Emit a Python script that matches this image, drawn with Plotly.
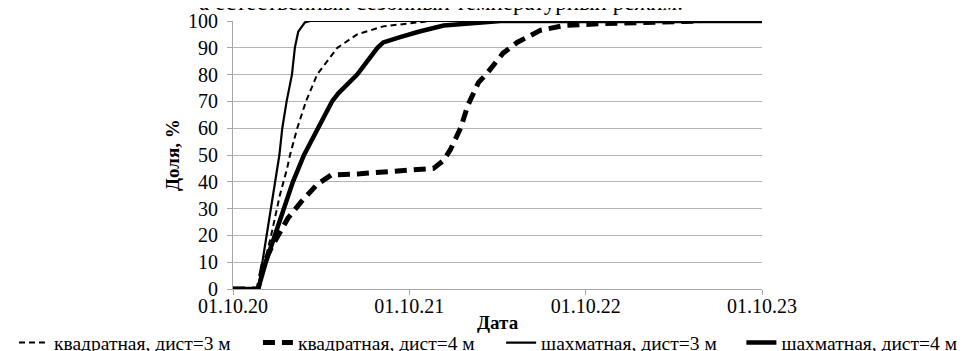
import plotly.graph_objects as go

# ---- data ----
kv3_dates = ["2020-10-01", "2020-11-22", "2020-12-19", "2021-01-06", "2021-01-21", "2021-01-27",
             "2021-02-11", "2021-03-01", "2021-03-24", "2021-05-05", "2021-06-15", "2021-08-08",
             "2021-11-14", "2023-10-01"]
kv3_vals = [0, 0, 20, 35, 45, 50, 60, 70, 80, 90, 95, 98, 100, 100]

kv4_dates = ["2020-10-01", "2020-11-22", "2020-12-02", "2020-12-21", "2021-01-23", "2021-02-19",
             "2021-03-24", "2021-04-22", "2021-06-21", "2021-09-19", "2021-11-20", "2021-12-11",
             "2021-12-25", "2022-01-15", "2022-01-30", "2022-02-21", "2022-03-13", "2022-04-13",
             "2022-05-12", "2022-06-29", "2022-08-16", "2022-11-01", "2023-05-27"]
kv4_vals = [0, 0, 9, 16, 26.5, 32.5, 39, 42.5, 43, 44, 45, 48, 52, 60, 68.5, 77, 81, 88,
            92, 96.5, 98.3, 99, 100]

sh3_dates = ["2020-10-01", "2020-11-22", "2021-01-05", "2021-01-11", "2021-01-20", "2021-01-31",
             "2021-02-06", "2021-02-13", "2021-02-27", "2021-03-10", "2023-10-01"]
sh3_vals = [0, 0, 50, 60, 70, 80, 90, 96, 99.5, 100, 100]

sh4_dates = ["2020-10-01", "2020-11-22", "2020-12-08", "2020-12-27", "2021-01-13", "2021-02-02",
             "2021-02-25", "2021-03-26", "2021-04-24", "2021-05-07", "2021-06-15", "2021-07-27",
             "2021-08-08", "2021-09-12", "2021-10-20", "2021-12-11", "2022-01-29", "2022-04-08",
             "2023-10-01"]
sh4_vals = [0, 0, 10, 20, 30, 40, 50, 60, 70, 73, 80, 90, 92, 94, 96, 98.3, 99, 100, 100]

series_names = ["квадратная, дист=3 м", "квадратная, дист=4 м",
                "шахматная, дист=3 м", "шахматная, дист=4 м"]

x_ticks = ["2020-10-01", "2021-10-01", "2022-10-01", "2023-10-01"]
x_tick_labels = ["01.10.20", "01.10.21", "01.10.22", "01.10.23"]
y_ticks = [0, 10, 20, 30, 40, 50, 60, 70, 80, 90, 100]

caption = "а естественный сезонный температурный режим."
y_title = "Доля, %"
x_title = "Дата"

FONT = "Liberation Serif"

fig = go.Figure()
fig.add_trace(go.Scatter(x=kv3_dates, y=kv3_vals, mode="lines", name=series_names[0],
                         legend="legend",
                         line=dict(color="black", width=2, dash="6px,4px")))
fig.add_trace(go.Scatter(x=kv4_dates, y=kv4_vals, mode="lines", name=series_names[1],
                         legend="legend2",
                         line=dict(color="black", width=5, dash="12px,7px")))
fig.add_trace(go.Scatter(x=sh3_dates, y=sh3_vals, mode="lines", name=series_names[2],
                         legend="legend3",
                         line=dict(color="black", width=2.2)))
fig.add_trace(go.Scatter(x=sh4_dates, y=sh4_vals, mode="lines", name=series_names[3],
                         legend="legend4",
                         line=dict(color="black", width=4.5)))


def legend_style(xpos):
    return dict(orientation="h", xref="container", x=xpos, xanchor="left",
                yref="container", y=0.046, yanchor="middle",
                font=dict(family=FONT, size=19.5), itemwidth=30, tracegroupgap=0,
                borderwidth=0, bgcolor="rgba(0,0,0,0)")


# the page has an 8px body margin, so the figure is offset by 8px right and down
fig.update_layout(
    width=965, height=351,
    margin=dict(l=225, r=211, t=12.5, b=69.5, autoexpand=False),
    paper_bgcolor="white", plot_bgcolor="white",
    font=dict(family=FONT, size=20, color="black"),
    showlegend=True,
    legend=legend_style(0.0062),
    legend2=legend_style(0.259),
    legend3=legend_style(0.511),
    legend4=legend_style(0.760),
    xaxis=dict(type="date", range=["2020-10-01", "2023-10-01"], tickvals=x_ticks,
               ticktext=x_tick_labels, showgrid=False, showline=True, linecolor="#a6a6a6",
               linewidth=1, ticks="outside", ticklen=5, tickcolor="#a6a6a6",
               tickfont=dict(family=FONT, size=20), zeroline=False, fixedrange=True,
               ticklabelstandoff=-6),
    yaxis=dict(range=[0, 100], tickvals=y_ticks, showgrid=True, gridcolor="#b3b3b3",
               gridwidth=1, showline=True, linecolor="#a6a6a6", linewidth=1,
               ticks="outside", ticklen=5, tickcolor="#a6a6a6",
               tickfont=dict(family=FONT, size=20), zeroline=False,
               ticklabelstandoff=5),
    annotations=[
        dict(text=caption, xref="paper", yref="paper", x=-0.068, y=1, xanchor="left",
             yanchor="bottom", yshift=4, showarrow=False, font=dict(family=FONT, size=23)),
        dict(text="<b>" + y_title + "</b>", xref="paper", yref="paper", x=0, y=0.5,
             xanchor="center", yanchor="middle", xshift=-61, textangle=-90,
             showarrow=False, font=dict(family=FONT, size=19)),
        dict(text="<b>" + x_title + "</b>", xref="paper", yref="paper", x=0.5, y=0,
             xanchor="center", yshift=-33, yanchor="middle", showarrow=False,
             font=dict(family=FONT, size=19)),
    ],
)

fig.write_html("out.html")
